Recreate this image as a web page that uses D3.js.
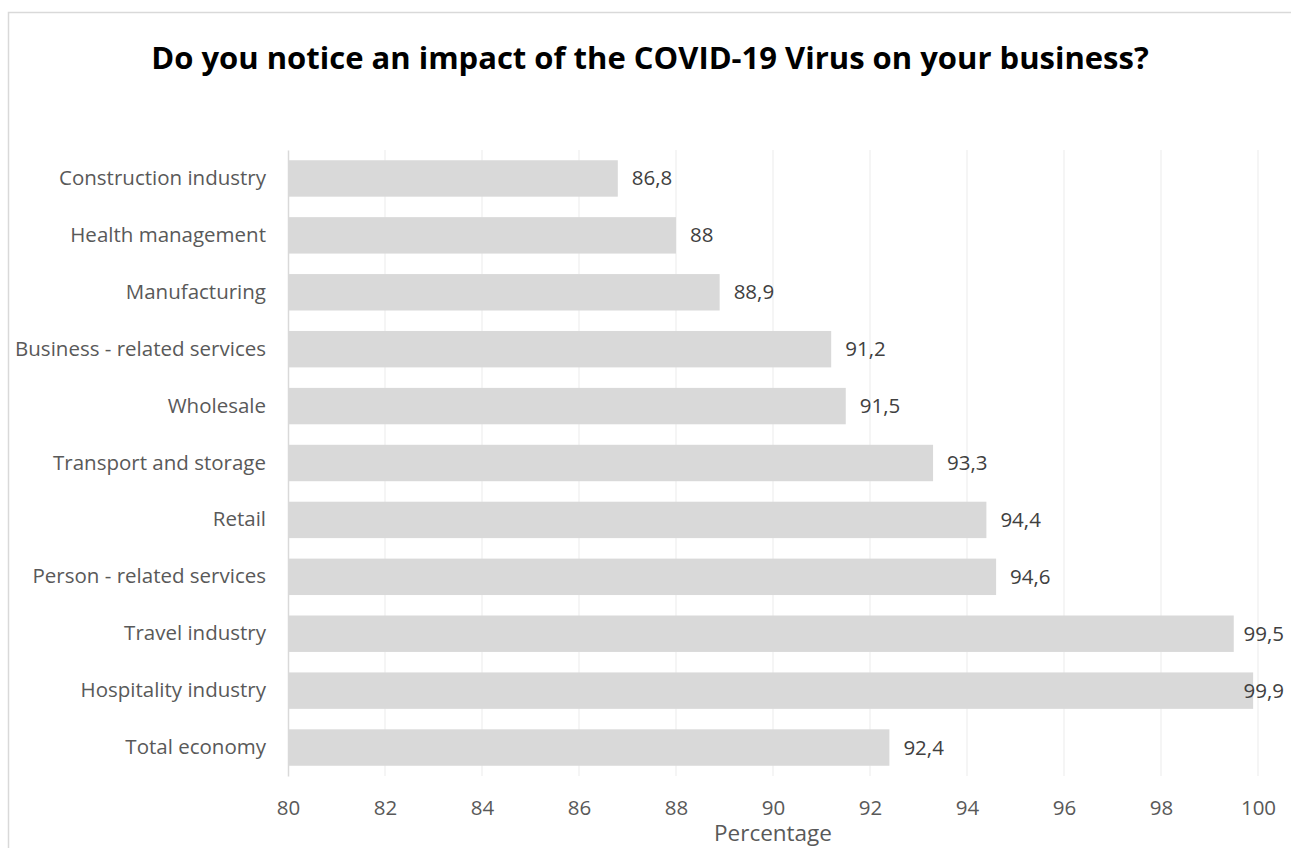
<!DOCTYPE html>
<html>
<head>
<meta charset="utf-8">
<script src="https://cdn.jsdelivr.net/npm/d3@7"></script>
<style>
  body { margin: 0; background: #fff; }
  text { font-family: 'Open Sans', 'Noto Sans', sans-serif; }
</style>
</head>
<body>
<div class="canvas"></div>
<script>
'use strict';

const categories = [
  'Construction industry',
  'Health management',
  'Manufacturing',
  'Business - related services',
  'Wholesale',
  'Transport and storage',
  'Retail',
  'Person - related services ',
  'Travel industry',
  'Hospitality industry',
  'Total economy'
];
const values = [86.8, 88, 88.9, 91.2, 91.5, 93.3, 94.4, 94.6, 99.5, 99.9, 92.4];
const ticks = [80, 82, 84, 86, 88, 90, 92, 94, 96, 98, 100];

const data = categories.map((name, i) => ({ name, value: values[i] }));

const width = 1291;
const height = 848;
const margin = { top: 150, right: 33, bottom: 72, left: 288 };
const graphWidth = width - margin.left - margin.right;
const graphHeight = height - margin.top - margin.bottom;
const fontSize = '20.5px';

const svg = d3
  .select('.canvas')
  .append('svg')
  .attr('width', width)
  .attr('height', height);

// chart frame
svg
  .append('rect')
  .attr('x', 8.5)
  .attr('y', 12.5)
  .attr('width', width + 10)
  .attr('height', height + 10)
  .attr('fill', 'none')
  .attr('stroke', '#d9d9d9')
  .attr('stroke-width', 1.5);

svg
  .append('text')
  .attr('x', 650)
  .attr('y', 69)
  .attr('text-anchor', 'middle')
  .attr('fill', '#000')
  .style('font-size', '31px')
  .style('font-weight', 'bold')
  .text('Do you notice an impact of the COVID-19 Virus on your business?');

const graph = svg
  .append('g')
  .attr('transform', `translate(${margin.left},${margin.top})`);

const x = d3.scaleLinear().domain([80, 100]).range([0, graphWidth]);
const y = d3
  .scaleBand()
  .domain(categories)
  .range([0, graphHeight])
  .paddingInner(0.36)
  .paddingOuter(0.18);

// gridlines
graph
  .append('g')
  .selectAll('line')
  .data(ticks.slice(1))
  .enter()
  .append('line')
  .attr('x1', d => x(d))
  .attr('x2', d => x(d))
  .attr('y1', 0)
  .attr('y2', graphHeight)
  .attr('stroke', '#ebebeb')
  .attr('stroke-width', 1);

graph
  .selectAll('rect.bar')
  .data(data)
  .enter()
  .append('rect')
  .attr('class', 'bar')
  .attr('x', 0)
  .attr('y', d => y(d.name))
  .attr('width', d => x(d.value))
  .attr('height', y.bandwidth())
  .attr('fill', '#d9d9d9');

// value labels, kept inside the chart area like Excel does
const labelMax = width - margin.left - 7;
graph
  .selectAll('text.value')
  .data(data)
  .enter()
  .append('text')
  .attr('class', 'value')
  .attr('y', d => y(d.name) + y.bandwidth() / 2 + 7)
  .attr('fill', '#404040')
  .style('font-size', fontSize)
  .text(d => String(d.value).replace('.', ','))
  .attr('x', function (d) {
    const w = this.getComputedTextLength();
    return Math.min(x(d.value) + 14, labelMax - w);
  });

const yAxis = d3.axisLeft(y).tickSize(0).tickPadding(22);
const yAxisGroup = graph.append('g').call(yAxis);
yAxisGroup.select('.domain').attr('stroke', '#d9d9d9').attr('stroke-width', 1.5);
yAxisGroup
  .selectAll('text')
  .attr('fill', '#595959')
  .style('font-size', fontSize)
  .style('font-family', "'Open Sans', 'Noto Sans', sans-serif");

const xAxis = d3.axisBottom(x).tickValues(ticks).tickSize(0).tickPadding(24);
const xAxisGroup = graph
  .append('g')
  .attr('transform', `translate(0, ${graphHeight})`)
  .call(xAxis);
xAxisGroup.select('.domain').remove();
xAxisGroup
  .selectAll('text')
  .attr('fill', '#595959')
  .style('font-size', fontSize)
  .style('font-family', "'Open Sans', 'Noto Sans', sans-serif");

graph
  .append('text')
  .attr('x', x(90))
  .attr('y', graphHeight + 65)
  .attr('text-anchor', 'middle')
  .attr('fill', '#595959')
  .style('font-size', '22.5px')
  .text('Percentage');
</script>
</body>
</html>
